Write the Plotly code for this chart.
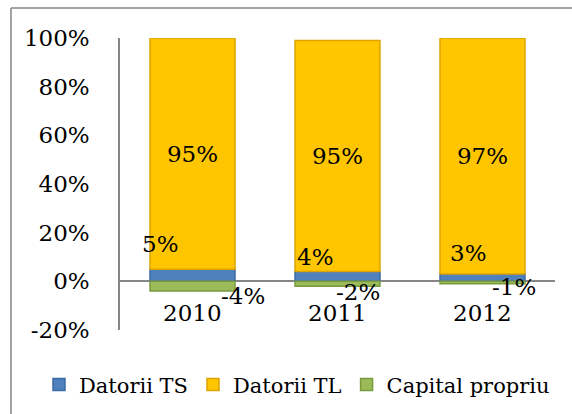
import plotly.graph_objects as go

# Structure of liabilities, 2010-2012 (share of total, %)
years = ["2010", "2011", "2012"]
datorii_ts = [5, 4, 3]
datorii_tl = [95, 95, 97]
capital_propriu = [-4, -2, -1]
y_ticks = [-20, 0, 20, 40, 60, 80, 100]
y_tick_labels = [f"{v}%" for v in y_ticks]

FONT = "DejaVu Serif"
AXIS_GRAY = "#868686"

fig = go.Figure()

fig.add_trace(go.Bar(
    name="Datorii TS", x=years, y=datorii_ts,
    marker=dict(color="#4F81BD", line=dict(color="#3A6BA6", width=1.5)),
    hoverinfo="skip",
))
fig.add_trace(go.Bar(
    name="Datorii TL", x=years, y=datorii_tl,
    text=[f"{v}%" for v in datorii_tl], textposition="inside",
    insidetextanchor="middle",
    textfont=dict(family=FONT, size=23, color="black"),
    marker=dict(color="#FFC600", line=dict(color="#DDA400", width=1.5)),
    hoverinfo="skip",
))
fig.add_trace(go.Bar(
    name="Capital propriu", x=years, y=capital_propriu,
    marker=dict(color="#9BBB59", line=dict(color="#7A9A40", width=1.5)),
    hoverinfo="skip",
))

# Label offsets (pixels) for the thin segments
ts_shift = [(-32, 25), (-22, 15), (-14, 21)]
cp_shift = [(50, -5), (20, -6), (31, -3)]

label_font = dict(family=FONT, size=23, color="black")
annotations = []
for i, yr in enumerate(years):
    # on a category axis the annotation x is the category index
    dx, dy = ts_shift[i]
    annotations.append(dict(
        x=i, y=datorii_ts[i], xref="x", yref="y", text=f"{datorii_ts[i]}%",
        showarrow=False, xshift=dx, yshift=dy, font=label_font,
    ))
    dx, dy = cp_shift[i]
    annotations.append(dict(
        x=i, y=capital_propriu[i], xref="x", yref="y",
        text=f"{capital_propriu[i]}%",
        showarrow=False, xshift=dx, yshift=dy, font=label_font,
    ))
    # category labels sit next to the zero line
    annotations.append(dict(
        x=i, y=0, xref="x", yref="y", text=yr, showarrow=False,
        yshift=-32, font=label_font,
    ))

# chart frame
frame = dict(color=AXIS_GRAY, width=1.5)
shapes = [
    dict(type="line", xref="paper", yref="paper",
         x0=-0.2506, x1=-0.2506, y0=1.1027, y1=-0.5, line=frame),
    dict(type="line", xref="paper", yref="paper",
         x0=-0.2506, x1=1.2, y0=1.1027, y1=1.1027, line=frame),
]

fig.update_layout(
    width=572, height=414,
    margin=dict(l=120, r=17, t=38, b=84, autoexpand=False),
    barmode="relative", bargap=0.414,
    paper_bgcolor="white", plot_bgcolor="white",
    font=dict(family=FONT, size=23, color="black"),
    showlegend=True,
    legend=dict(
        orientation="h", x=-0.1862, xanchor="left",
        y=-0.188, yanchor="middle",
        font=dict(family=FONT, size=21, color="black"),
        traceorder="normal", itemclick=False, itemdoubleclick=False,
    ),
    xaxis=dict(type="category", range=[-0.5, 2.5], autorange=False,
               showticklabels=False, showline=False,
               showgrid=False, zeroline=False, ticks=""),
    yaxis=dict(
        range=[-20, 100], autorange=False,
        tickvals=y_ticks, ticktext=y_tick_labels,
        showgrid=False, showline=True, linecolor=AXIS_GRAY, linewidth=1.5,
        zeroline=True, zerolinecolor=AXIS_GRAY, zerolinewidth=1.5,
        ticks="outside", ticklen=24, tickcolor="rgba(0,0,0,0)",
        tickfont=dict(family=FONT, size=23, color="black"),
        layer="above traces",
    ),
    annotations=annotations,
    shapes=shapes,
)

fig.write_html("out.html")
